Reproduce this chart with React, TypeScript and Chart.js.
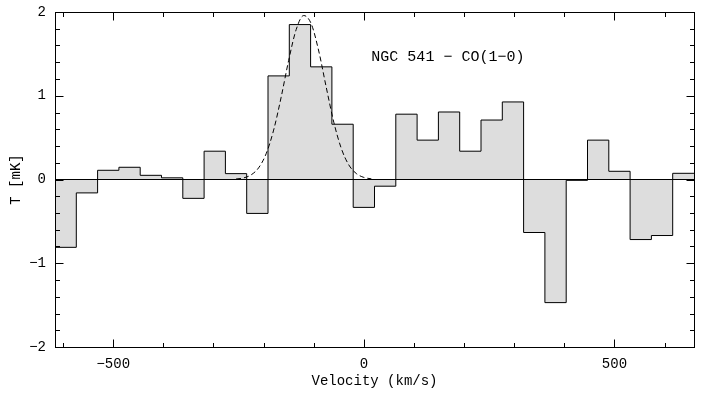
import React, { useEffect, useRef } from 'react';
import { Chart, registerables } from 'chart.js';

Chart.register(...registerables);

// ---- data ----
const binWidth = 42.5;
const binCenters = [
  -595, -552.5, -510, -467.5, -425, -382.5, -340, -297.5, -255, -212.5,
  -170, -127.5, -85, -42.5, 0, 42.5, 85, 127.5, 170, 212.5,
  255, 297.5, 340, 382.5, 425, 467.5, 510, 552.5, 595, 637.5,
];
const binValues = [
  -0.81, -0.16, 0.11, 0.146, 0.05, 0.02, -0.225, 0.338, 0.07, -0.405,
  1.237, 1.85, 1.345, 0.66, -0.333, -0.08, 0.78, 0.47, 0.806, 0.338,
  0.71, 0.926, -0.633, -1.47, -0.01, 0.47, 0.098, -0.717, -0.669, 0.074,
];
const fitVelocities = [
  -255, -240, -225, -210, -195, -180, -165, -150, -135, -120,
  -105, -90, -75, -60, -45, -30, -15, 0, 15,
];
const fitValues = [
  0.006, 0.019, 0.055, 0.139, 0.307, 0.59, 0.983, 1.423, 1.791, 1.958,
  1.859, 1.534, 1.1, 0.685, 0.371, 0.174, 0.071, 0.025, 0.008,
];
const xMajorTicks = [-500, 0, 500];
const xMinorTicks = [-600, -500, -400, -300, -200, -100, 0, 100, 200, 300, 400, 500, 600];
const yMajorTicks = [-2, -1, 0, 1, 2];
const yMinorTicks = [
  -1.8, -1.6, -1.4, -1.2, -1, -0.8, -0.6, -0.4, -0.2, 0,
  0.2, 0.4, 0.6, 0.8, 1, 1.2, 1.4, 1.6, 1.8,
];
const xRange = [-616.25, 658.75];
const yRange = [-2, 2];
const titleText = 'NGC 541 − CO(1−0)';
const titlePos = { x: 15, y: 1.46 };
const xLabel = 'Velocity (km/s)';
const yLabel = 'T [mK]';

const FONT = 'Liberation Mono';

const fmt = (v: number) => String(v).replace('-', '−');

const framePlugin = {
  id: 'framePlugin',
  afterDatasetsDraw(chart: any) {
    const { ctx, chartArea, scales } = chart;
    const xs = scales.x;
    const ys = scales.y;
    const L = Math.floor(chartArea.left) + 0.5;
    const R = Math.floor(chartArea.right) + 0.5;
    const T = Math.floor(chartArea.top) + 0.5;
    const B = Math.floor(chartArea.bottom) + 0.5;
    ctx.save();
    ctx.strokeStyle = '#000';
    ctx.lineWidth = 1;
    // zero line
    const y0 = Math.floor(ys.getPixelForValue(0)) + 0.5;
    ctx.beginPath();
    ctx.moveTo(L, y0);
    ctx.lineTo(R, y0);
    ctx.stroke();
    // frame
    ctx.strokeRect(L, T, R - L, B - T);
    // ticks
    ctx.beginPath();
    xMinorTicks.forEach((v) => {
      const px = Math.round(xs.getPixelForValue(v)) + 0.5;
      const len = xMajorTicks.includes(v) ? 8 : 4.5;
      ctx.moveTo(px, B);
      ctx.lineTo(px, B - len);
      ctx.moveTo(px, T);
      ctx.lineTo(px, T + len);
    });
    yMinorTicks.forEach((v) => {
      const py = Math.round(ys.getPixelForValue(v)) + 0.5;
      const len = yMajorTicks.includes(v) ? 8 : 4.5;
      ctx.moveTo(L, py);
      ctx.lineTo(L + len, py);
      ctx.moveTo(R, py);
      ctx.lineTo(R - len, py);
    });
    ctx.stroke();
    // title inside plot
    ctx.fillStyle = '#000';
    ctx.font = `15px "${FONT}"`;
    ctx.textAlign = 'left';
    ctx.textBaseline = 'middle';
    ctx.fillText(titleText, xs.getPixelForValue(titlePos.x), ys.getPixelForValue(titlePos.y));
    ctx.restore();
  },
};

export default function App() {
  const canvasRef = useRef<HTMLCanvasElement | null>(null);

  useEffect(() => {
    const canvas = canvasRef.current;
    if (!canvas) return;
    const histPoints = binCenters.map((c, i) => ({ x: c - binWidth / 2, y: binValues[i] }));
    histPoints.push({
      x: binCenters[binCenters.length - 1] + binWidth / 2,
      y: binValues[binValues.length - 1],
    });
    const fitPoints = fitVelocities.map((v, i) => ({ x: v, y: fitValues[i] }));

    const chart = new Chart(canvas, {
      type: 'line',
      data: {
        datasets: [
          {
            data: fitPoints,
            borderColor: '#000',
            borderWidth: 1,
            borderDash: [5, 3],
            pointRadius: 0,
            fill: false,
            cubicInterpolationMode: 'monotone',
          },
          {
            data: histPoints,
            stepped: 'before',
            borderColor: '#000',
            borderWidth: 1,
            backgroundColor: '#dddddd',
            pointRadius: 0,
            fill: 'origin',
          },
        ],
      },
      options: {
        animation: false,
        responsive: false,
        devicePixelRatio: 1,
        layout: { padding: { top: 12, right: 13, left: 0, bottom: 0 } },
        plugins: { legend: { display: false }, tooltip: { enabled: false } },
        scales: {
          x: {
            type: 'linear',
            min: xRange[0],
            max: xRange[1],
            grid: { display: false, drawTicks: false },
            border: { display: false },
            afterBuildTicks: (s: any) => {
              s.ticks = xMajorTicks.map((v) => ({ value: v }));
            },
            afterFit: (s: any) => {
              s.height = 49;
              s.paddingLeft = 0;
              s.paddingRight = 0;
            },
            ticks: {
              callback: (v: any) => fmt(v),
              font: { family: FONT, size: 14 },
              color: '#000',
              padding: 9,
              maxRotation: 0,
              autoSkip: false,
            },
            title: {
              display: true,
              text: xLabel,
              font: { family: FONT, size: 14 },
              color: '#000',
              padding: { top: 0, bottom: 6 },
            },
          },
          y: {
            type: 'linear',
            min: yRange[0],
            max: yRange[1],
            grid: { display: false, drawTicks: false },
            border: { display: false },
            afterBuildTicks: (s: any) => {
              s.ticks = yMajorTicks.map((v) => ({ value: v }));
            },
            afterFit: (s: any) => {
              s.width = 55;
              s.paddingTop = 0;
              s.paddingBottom = 0;
            },
            ticks: {
              callback: (v: any) => fmt(v),
              font: { family: FONT, size: 14 },
              color: '#000',
              padding: 9,
            },
            title: {
              display: true,
              text: yLabel,
              font: { family: FONT, size: 14 },
              color: '#000',
              padding: { top: 8, bottom: 0 },
            },
          },
        },
      },
      plugins: [framePlugin],
    } as any);
    return () => chart.destroy();
  }, []);

  return (
    <div style={{ position: 'fixed', left: 0, top: 0, width: 707, height: 396, background: '#fff' }}>
      <canvas ref={canvasRef} width={707} height={396} />
    </div>
  );
}
